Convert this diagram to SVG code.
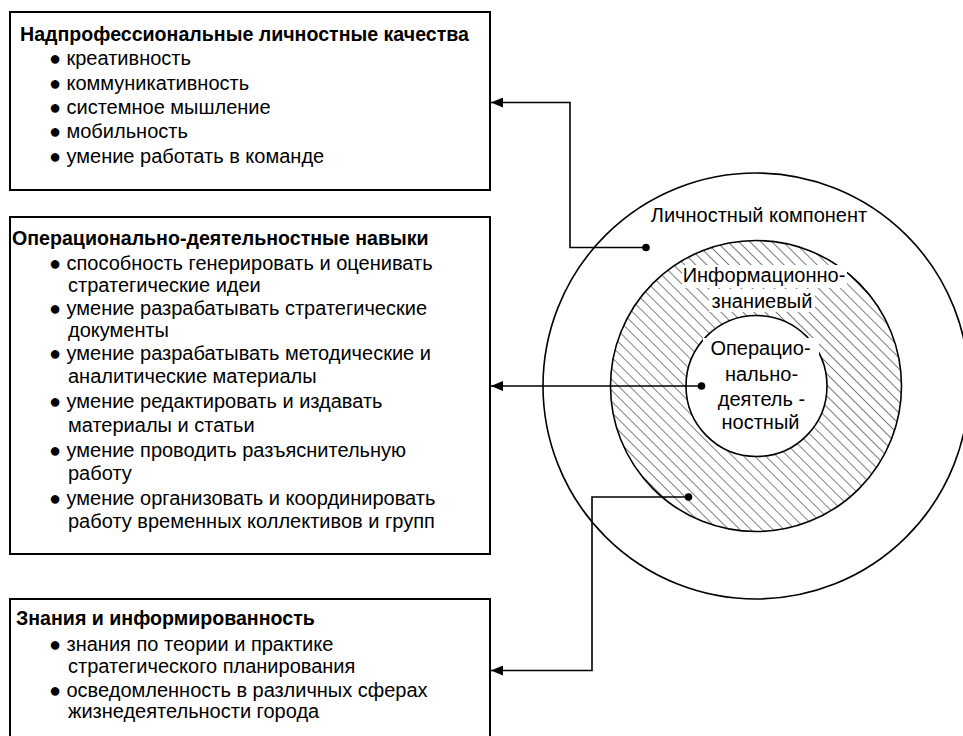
<svg xmlns="http://www.w3.org/2000/svg" width="963" height="736" viewBox="0 0 963 736">
<style>
  .box{fill:#fff;stroke:#000;stroke-width:2}
  .t{font-family:"Liberation Sans",Arial,sans-serif;font-size:20px;fill:#000}
  .b{font-weight:bold;font-size:19.6px}
  .c{text-anchor:middle}
  .bul{font-family:"Liberation Sans",Arial,sans-serif;font-size:20px;fill:#000}
  .ring{stroke:#000;stroke-width:1.6}
  .conn{fill:none;stroke:#000;stroke-width:1.6}
  .dot{fill:#000}
  .wbg{fill:#fff}
</style>
<defs>
  <pattern id="hatch" width="7.8" height="7.8" patternUnits="userSpaceOnUse" patternTransform="rotate(-45)">
    <rect width="7.8" height="7.8" fill="#fff"/>
    <line x1="0" y1="0" x2="0" y2="7.8" stroke="#000" stroke-width="1"/>
  </pattern>
  <marker id="arr" markerWidth="12" markerHeight="10" refX="12" refY="5" orient="auto" markerUnits="userSpaceOnUse">
    <path d="M0,0 L12,5 L0,10 Z" fill="#000"/>
  </marker>
</defs>
<rect width="963" height="736" fill="#fff"/>

<g id="box-top">
  <rect class="box" x="10" y="12" width="480" height="178"/>
  <text class="t b" x="20" y="40.5">Надпрофессиональные личностные качества</text>
  <text class="bul" x="49" y="65">●</text><text class="t" x="66.5" y="65">креативность</text>
  <text class="bul" x="49" y="89.5">●</text><text class="t" x="66.5" y="89.5">коммуникативность</text>
  <text class="bul" x="49" y="114">●</text><text class="t" x="66.5" y="114">системное мышление</text>
  <text class="bul" x="49" y="138">●</text><text class="t" x="66.5" y="138">мобильность</text>
  <text class="bul" x="49" y="162.5">●</text><text class="t" x="66.5" y="162.5">умение работать в команде</text>
</g>

<g id="box-mid">
  <rect class="box" x="10" y="217" width="480" height="337"/>
  <text class="t b" x="12" y="245">Операционально-деятельностные навыки</text>
  <text class="bul" x="49" y="270">●</text><text class="t" x="66.5" y="270">способность генерировать и оценивать</text>
  <text class="t" x="68" y="292">стратегические идеи</text>
  <text class="bul" x="49" y="315">●</text><text class="t" x="66.5" y="315">умение разрабатывать стратегические</text>
  <text class="t" x="68" y="337">документы</text>
  <text class="bul" x="49" y="360">●</text><text class="t" x="66.5" y="360">умение разрабатывать методические и</text>
  <text class="t" x="68" y="383">аналитические материалы</text>
  <text class="bul" x="49" y="408">●</text><text class="t" x="66.5" y="408">умение редактировать и издавать</text>
  <text class="t" x="68" y="432">материалы и статьи</text>
  <text class="bul" x="49" y="457">●</text><text class="t" x="66.5" y="457">умение проводить разъяснительную</text>
  <text class="t" x="68" y="480">работу</text>
  <text class="bul" x="49" y="505">●</text><text class="t" x="66.5" y="505">умение организовать и координировать</text>
  <text class="t" x="68" y="528">работу временных коллективов и групп</text>
</g>

<g id="box-bottom">
  <rect class="box" x="10" y="599" width="480" height="160"/>
  <text class="t b" x="16" y="625">Знания и информированность</text>
  <text class="bul" x="49" y="651">●</text><text class="t" x="66.5" y="651">знания по теории и практике</text>
  <text class="t" x="68" y="673">стратегического планирования</text>
  <text class="bul" x="49" y="696.5">●</text><text class="t" x="66.5" y="696.5">осведомленность в различных сферах</text>
  <text class="t" x="68" y="718">жизнедеятельности города</text>
</g>

<g id="circle-personal">
  <circle class="ring" cx="756" cy="386" r="213" fill="#fff"/>
  <text class="t c" x="759" y="221.5">Личностный компонент</text>
</g>

<g id="circle-info">
  <circle class="ring" cx="756" cy="386" r="145.5" fill="url(#hatch)"/>
  <rect class="wbg" x="682" y="265" width="165" height="23"/>
  <rect class="wbg" x="709" y="289" width="106" height="23"/>
  <text class="t c" x="764" y="282">Информационно-</text>
  <text class="t c" x="762" y="308">знаниевый</text>
</g>

<g id="circle-oper">
  <circle class="ring" cx="756.5" cy="386" r="70.5" fill="#fff"/>
  <rect class="wbg" x="703" y="338" width="116" height="22"/>
  <rect class="wbg" x="712" y="389" width="100" height="22"/>
  <text class="t c" x="760.5" y="355">Операцио-</text>
  <text class="t c" x="761.5" y="380.5">нально-</text>
  <text class="t c" x="761.5" y="405.5">деятель -</text>
  <text class="t c" x="760.5" y="428.5">ностный</text>
</g>

<g id="connectors">
  <polyline class="conn" points="646,247.5 570,247.5 570,102.5 491,102.5" marker-end="url(#arr)"/>
  <polyline class="conn" points="701,386 491,386" marker-end="url(#arr)"/>
  <polyline class="conn" points="688,497 592,497 592,670.5 491,670.5" marker-end="url(#arr)"/>
  <circle class="dot" cx="646" cy="247.5" r="3.8"/>
  <circle class="dot" cx="701.5" cy="386" r="3.8"/>
  <circle class="dot" cx="688.5" cy="497" r="3.8"/>
</g>
</svg>
